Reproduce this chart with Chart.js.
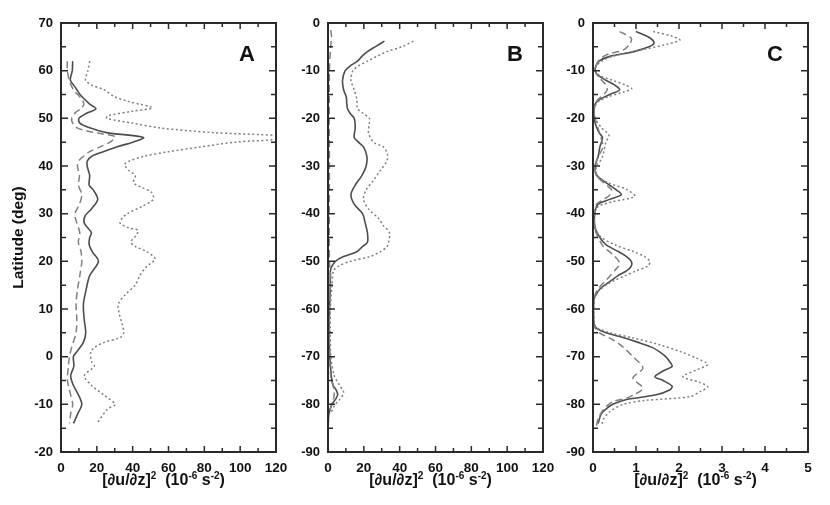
<!DOCTYPE html>
<html><head><meta charset="utf-8">
<script src="https://cdn.jsdelivr.net/npm/chart.js@4.4.0/dist/chart.umd.min.js"></script>
<style>
html,body{margin:0;padding:0;background:#fff;width:830px;height:505px;overflow:hidden}
canvas{position:absolute;top:0}
</style></head><body>
<canvas id="ca" width="295" height="505" style="left:0px"></canvas>
<canvas id="cb" width="265" height="505" style="left:290px"></canvas>
<canvas id="cc" width="275" height="505" style="left:555px"></canvas>
<script>
// ---------- Panel A ----------
const aSolidLat = [62,60,58,56.5,55,53,52,51,50,49,48,47,46,45,44,43,42,41,40,38,36,35,33,31,29.5,28,26,25,23.5,22,20,17,14,11,8,5,3,1,0,-2,-4,-6,-8,-10,-12,-14];
const aSolidVal = [6.5,6.3,5.2,8,10.6,16,19.5,14,10,10.5,16,25.5,46,40,31,23.6,17,14.6,14.6,16,15.7,18,20.5,17,13.4,13,17,16,15.7,17.5,20.9,16,14,12.5,12.9,13.8,12.5,8.8,6.9,7.2,5.4,6.9,9.7,11.6,9.3,7];
const aDashLat = [62,60,59,58,56,54,53,52,51.2,50,49,48,47.3,46.8,46.2,45.5,45,44,43,42,41,40,38,36,34,32,30,28,26,24,22,20,17,14,11,8,5,2,0,-2,-5,-7,-10,-12,-14];
const aDashVal = [3.5,3.5,4,4.5,7,11.6,12.8,11,8,6,6.5,9,15,22,30,29,27.4,21.8,16,12.5,9.7,9.2,10.3,9.7,11.6,10.3,7.8,8.8,10.5,9.7,11.2,11.6,10.5,9.2,8.4,8.8,8.4,6,4.7,4.1,3.6,4.7,6.5,5.4,4.7];
const aDotLat = [62,60,58,57,56,54.5,53.5,52.2,51.5,50.5,50,49,48,47,46.3,45.7,45,44,43,42,41,40.3,39,38,36.5,35.5,34.5,33,31.5,30,29,28,27,26.5,25.5,24,23,22,20.5,19,17,15,13,11,9,7,5,4,3,2,1,-1,-2,-4,-6,-8,-10,-11,-14];
const aDotVal = [16,15,13.7,17,24,30,38,51,40,26,25.5,40,55,85,124,124,97,78,60,46,38,35.5,38,41.4,40.5,45,50.5,51.5,45,37,34,33,38,43,42,39,42,48,52.6,48,44,41.4,35.8,32,32.5,34,35,33,24,19,16.6,17,18.6,13,17,23.7,30.2,26,20];

// ---------- Panel B ----------
const bSolidLat = [-3.8,-5,-6,-7,-8,-9,-10,-12,-14,-15.5,-17,-18,-19,-20,-22,-24,-25,-26,-28,-30,-32,-34,-36,-38,-40,-42,-44,-46,-47,-48,-49,-50,-51,-52,-55,-60,-65,-70,-73,-75,-76,-77,-78,-79,-80,-82,-84];
const bSolidVal = [31.5,26.3,22,18.9,16.5,12.4,9.6,8.1,8.7,10.2,10.5,10.9,12.4,14.6,15.2,14.6,17,19.8,21.7,21.3,18.9,15.2,12.8,14.6,19.3,20.8,22,22,18.9,16.1,8.7,4.1,2.2,1.3,1.3,0.9,0.5,1,1.6,2.2,2.8,4.6,5.4,4.1,2.2,0.5,0.2];
const bDashLat = [-1.5,-3,-5,-10,-20,-30,-40,-50,-53,-56,-60,-70,-74,-76,-77.5,-79,-80,-82];
const bDashVal = [1.5,2,1.5,0.8,0.7,0.8,0.7,0.8,1.5,1.2,0.8,1,1.5,2.8,3.5,3,2,0.5];
const bDotLat = [-3.8,-5,-6,-7,-8,-9,-10,-12,-14,-16,-18,-19,-20,-21,-23,-25,-26,-27.5,-29,-31,-33,-35,-37,-39,-41,-42.5,-44,-46,-47,-48,-49,-50,-51,-52,-55,-60,-65,-70,-74,-76,-77.5,-79,-80,-82];
const bDotVal = [47.6,41.2,32.8,27.3,22,17,13.9,12.8,14.6,16.1,16.5,19.8,23.1,23.1,22.6,25.4,30.9,33.2,32.8,29.1,25.4,21.3,19.8,22.6,28.2,30.9,34.3,33.8,32.8,29.1,23.5,12.4,5.9,3.1,2.2,1.3,1.3,1.6,3.5,6.5,8.7,6.5,4.1,1.3];

// ---------- Panel C ----------
const cSolidLat = [-1.8,-3,-4.2,-5,-6,-7,-8,-9,-10,-11,-12,-13,-14,-15,-16,-17,-19,-21,-23,-24,-26,-28,-30,-32,-33.5,-35,-36,-37,-38,-40,-43,-45,-46.5,-48,-49,-50,-51,-52,-53,-54,-55,-56,-57,-58,-63,-64,-65,-66,-67,-68,-69,-70,-71,-72,-73,-74.2,-75,-76.2,-77,-78,-79,-80,-81,-82,-84];
const cSolidVal = [1.0,1.3,1.42,1.3,0.95,0.39,0.14,0.07,0.05,0.12,0.3,0.5,0.62,0.39,0.16,0.05,0.02,0.05,0.14,0.22,0.16,0.12,0.05,0.09,0.3,0.54,0.66,0.39,0.12,0.04,0.05,0.16,0.3,0.6,0.78,0.89,0.89,0.78,0.58,0.43,0.27,0.14,0.07,0.02,0.02,0.08,0.3,0.7,1.05,1.36,1.55,1.69,1.78,1.84,1.63,1.44,1.63,1.84,1.78,1.47,0.78,0.46,0.3,0.19,0.12];
const cDashLat = [-1.8,-3.2,-4.5,-5.7,-6.4,-7,-8,-10,-11,-12,-13,-14,-15,-16,-17,-19,-21,-23,-26,-28,-30,-32,-33.5,-35,-36,-37,-38,-40,-43,-45,-47,-48.5,-50.4,-52,-54,-56,-58,-63,-64,-65,-66.5,-68,-70,-72.4,-74.5,-76.6,-78,-78.7,-79.4,-81,-83,-84.5];
const cDashVal = [0.62,0.89,0.85,0.7,0.39,0.25,0.12,0.05,0.1,0.2,0.3,0.33,0.25,0.12,0.05,0.03,0.08,0.15,0.23,0.12,0.05,0.08,0.25,0.43,0.4,0.25,0.08,0.03,0.04,0.12,0.25,0.45,0.62,0.5,0.3,0.1,0.02,0.02,0.05,0.15,0.47,0.7,0.93,1.16,0.93,1.16,0.95,0.78,0.47,0.25,0.12,0.08];
const cDotLat = [-1.8,-2.8,-3.6,-4.5,-5.5,-6.3,-7,-8,-9,-10,-11,-12,-13,-13.8,-14.5,-15.5,-16.5,-18,-20,-22,-23.5,-25,-27,-28.5,-30,-32,-33.5,-35,-36.4,-37.5,-38.5,-40,-43,-45,-46.5,-48,-49,-50,-51,-52,-53,-54,-55,-56.5,-58,-63,-64,-65,-66,-67.5,-69,-70.3,-71.6,-72.8,-74.2,-75.3,-76.3,-77.3,-78.4,-79.2,-80,-81.5,-83,-84.5];
const cDotVal = [1.4,1.85,2.02,1.7,1.2,0.8,0.45,0.2,0.08,0.05,0.15,0.45,0.75,0.9,0.7,0.35,0.12,0.03,0.05,0.2,0.37,0.3,0.25,0.2,0.08,0.1,0.35,0.8,0.97,0.45,0.12,0.04,0.05,0.2,0.5,0.95,1.2,1.32,1.28,1.0,0.75,0.5,0.3,0.1,0.03,0.03,0.1,0.4,0.9,1.55,2.05,2.4,2.67,2.4,2.09,2.45,2.67,2.5,2.25,1.2,0.7,0.4,0.25,0.2];

// ---------- Axis ticks and titles ----------
const xLabelsAB = [0,20,40,60,80,100,120];
const xMarksAB = [0,10,20,30,40,50,60,70,80,90,100,110,120];
const xLabelsC = [0,1,2,3,4,5];
const xMarksC = [0,0.5,1,1.5,2,2.5,3,3.5,4,4.5,5];
const yMarksA = [-20,-15,-10,-5,0,5,10,15,20,25,30,35,40,45,50,55,60,65,70];
const yMarksBC = [-90,-85,-80,-75,-70,-65,-60,-55,-50,-45,-40,-35,-30,-25,-20,-15,-10,-5,0];
// x-axis title pieces: [text, superscript?]
const xTitleParts = [['[\u2202u/\u2202z]', false], ['2', true], ['  (10', false], ['-6', true], [' s', false], ['-2', true], [')', false]];
const yTitle = 'Latitude (deg)';

const FONT = '"Liberation Sans", Arial, Helvetica, sans-serif';
Chart.defaults.font.family = FONT;
Chart.defaults.font.weight = 'bold';
Chart.defaults.font.size = 12;
Chart.defaults.color = '#111';

const solidStyle = {borderColor:'#4d4d4d', borderWidth:1.6, borderDash:[]};
const dashStyle = {borderColor:'#808080', borderWidth:1.5, borderDash:[7,4]};
const dotStyle = {borderColor:'#7f7f7f', borderWidth:1.5, borderDash:[2,2.5]};

function ds(lat, val, style){
  return Object.assign({data: lat.map((l,i)=>({x: val[i], y: l})), showLine:true, pointRadius:0, tension:0.3, fill:false}, style);
}

const framePlugin = {
  id:'frame',
  afterDraw(chart){
    const o = chart.options.plugins.frame;
    const {ctx, chartArea:a} = chart;
    const xs = chart.scales.x, ys = chart.scales.y;
    ctx.save();
    ctx.strokeStyle = '#2a2a2a';
    ctx.lineWidth = 1.5;
    ctx.setLineDash([]);
    ctx.beginPath();
    o.xMarks.forEach(v=>{
      const p = xs.getPixelForValue(v);
      const L = o.xLabels.includes(v) ? 6 : 4;
      ctx.moveTo(p, a.bottom); ctx.lineTo(p, a.bottom - L);
      ctx.moveTo(p, a.top); ctx.lineTo(p, a.top + L);
    });
    o.yMarks.forEach(v=>{
      const p = ys.getPixelForValue(v);
      const L = (v % 10 === 0) ? 7 : 5;
      ctx.moveTo(a.left, p); ctx.lineTo(a.left + L, p);
      ctx.moveTo(a.right, p); ctx.lineTo(a.right - L, p);
    });
    ctx.stroke();
    ctx.lineWidth = 2;
    ctx.strokeRect(a.left, a.top, a.right - a.left, a.bottom - a.top);
    ctx.fillStyle = '#111';
    ctx.font = 'bold 22px ' + FONT;
    ctx.textAlign = 'right';
    ctx.textBaseline = 'alphabetic';
    ctx.fillText(o.letter, a.right - o.letterDx, a.top + 38);
    // x-axis title with superscripts
    ctx.textAlign = 'left';
    const big = 'bold 16px ' + FONT, small = 'bold 10px ' + FONT;
    let w = 0;
    xTitleParts.forEach(([t, sup])=>{ ctx.font = sup ? small : big; w += ctx.measureText(t).width; });
    let x = (a.left + a.right) / 2 - 5 - w / 2;
    const base = 485;
    xTitleParts.forEach(([t, sup])=>{
      ctx.font = sup ? small : big;
      ctx.fillText(t, x, sup ? base - 6 : base);
      x += ctx.measureText(t).width;
    });
    ctx.restore();
  }
};

function makeChart(id, datasets, cfg){
  return new Chart(document.getElementById(id), {
    type:'scatter',
    data:{datasets},
    options:{
      responsive:false, animation:false,
      layout:{padding:{top:23, right:cfg.padRight, left:0, bottom:0}},
      plugins:{legend:{display:false}, tooltip:{enabled:false},
        frame:{letter:cfg.letter, letterDx:cfg.letterDx, xMarks:cfg.xMarks, xLabels:cfg.xLabels, yMarks:cfg.yMarks}},
      scales:{
        x:{type:'linear', min:cfg.xMin, max:cfg.xMax,
          grid:{display:false, drawTicks:false}, border:{display:false},
          ticks:{stepSize:cfg.xStep, padding:8, font:{size:13.5, weight:'bold'}, color:'#111', maxRotation:0,
            callback:(v)=>cfg.xLabels.includes(v) ? String(v) : ''},
          title:{display:false},
          afterFit(s){ s.height = 53; s.paddingLeft = 0; s.paddingRight = 0; }
        },
        y:{type:'linear', min:cfg.yMin, max:cfg.yMax,
          grid:{display:false, drawTicks:false}, border:{display:false},
          ticks:{stepSize:10, padding:8, font:{size:13, weight:'bold'}, color:'#111'},
          title:{display:cfg.yTitle, text:yTitle, font:{size:15.5, weight:'bold'}, color:'#111', padding:{top:9, bottom:0}},
          afterFit(s){ s.width = cfg.yW; s.paddingTop = 0; s.paddingBottom = 0; }
        }
      }
    },
    plugins:[framePlugin]
  });
}

makeChart('ca', [ds(aDotLat,aDotVal,dotStyle), ds(aDashLat,aDashVal,dashStyle), ds(aSolidLat,aSolidVal,solidStyle)],
  {letter:'A', letterDx:21, padRight:19, yW:61, xMin:0, xMax:120, xStep:20, yMin:-20, yMax:70, yTitle:true,
   xMarks:xMarksAB, xLabels:xLabelsAB, yMarks:yMarksA});
makeChart('cb', [ds(bDotLat,bDotVal,dotStyle), ds(bDashLat,bDashVal,dashStyle), ds(bSolidLat,bSolidVal,solidStyle)],
  {letter:'B', letterDx:20, padRight:12, yW:38, xMin:0, xMax:120, xStep:20, yMin:-90, yMax:0, yTitle:false,
   xMarks:xMarksAB, xLabels:xLabelsAB, yMarks:yMarksBC});
makeChart('cc', [ds(cDotLat,cDotVal,dotStyle), ds(cDashLat,cDashVal,dashStyle), ds(cSolidLat,cSolidVal,solidStyle)],
  {letter:'C', letterDx:25, padRight:22, yW:38, xMin:0, xMax:5, xStep:1, yMin:-90, yMax:0, yTitle:false,
   xMarks:xMarksC, xLabels:xLabelsC, yMarks:yMarksBC});
</script>
</body></html>
